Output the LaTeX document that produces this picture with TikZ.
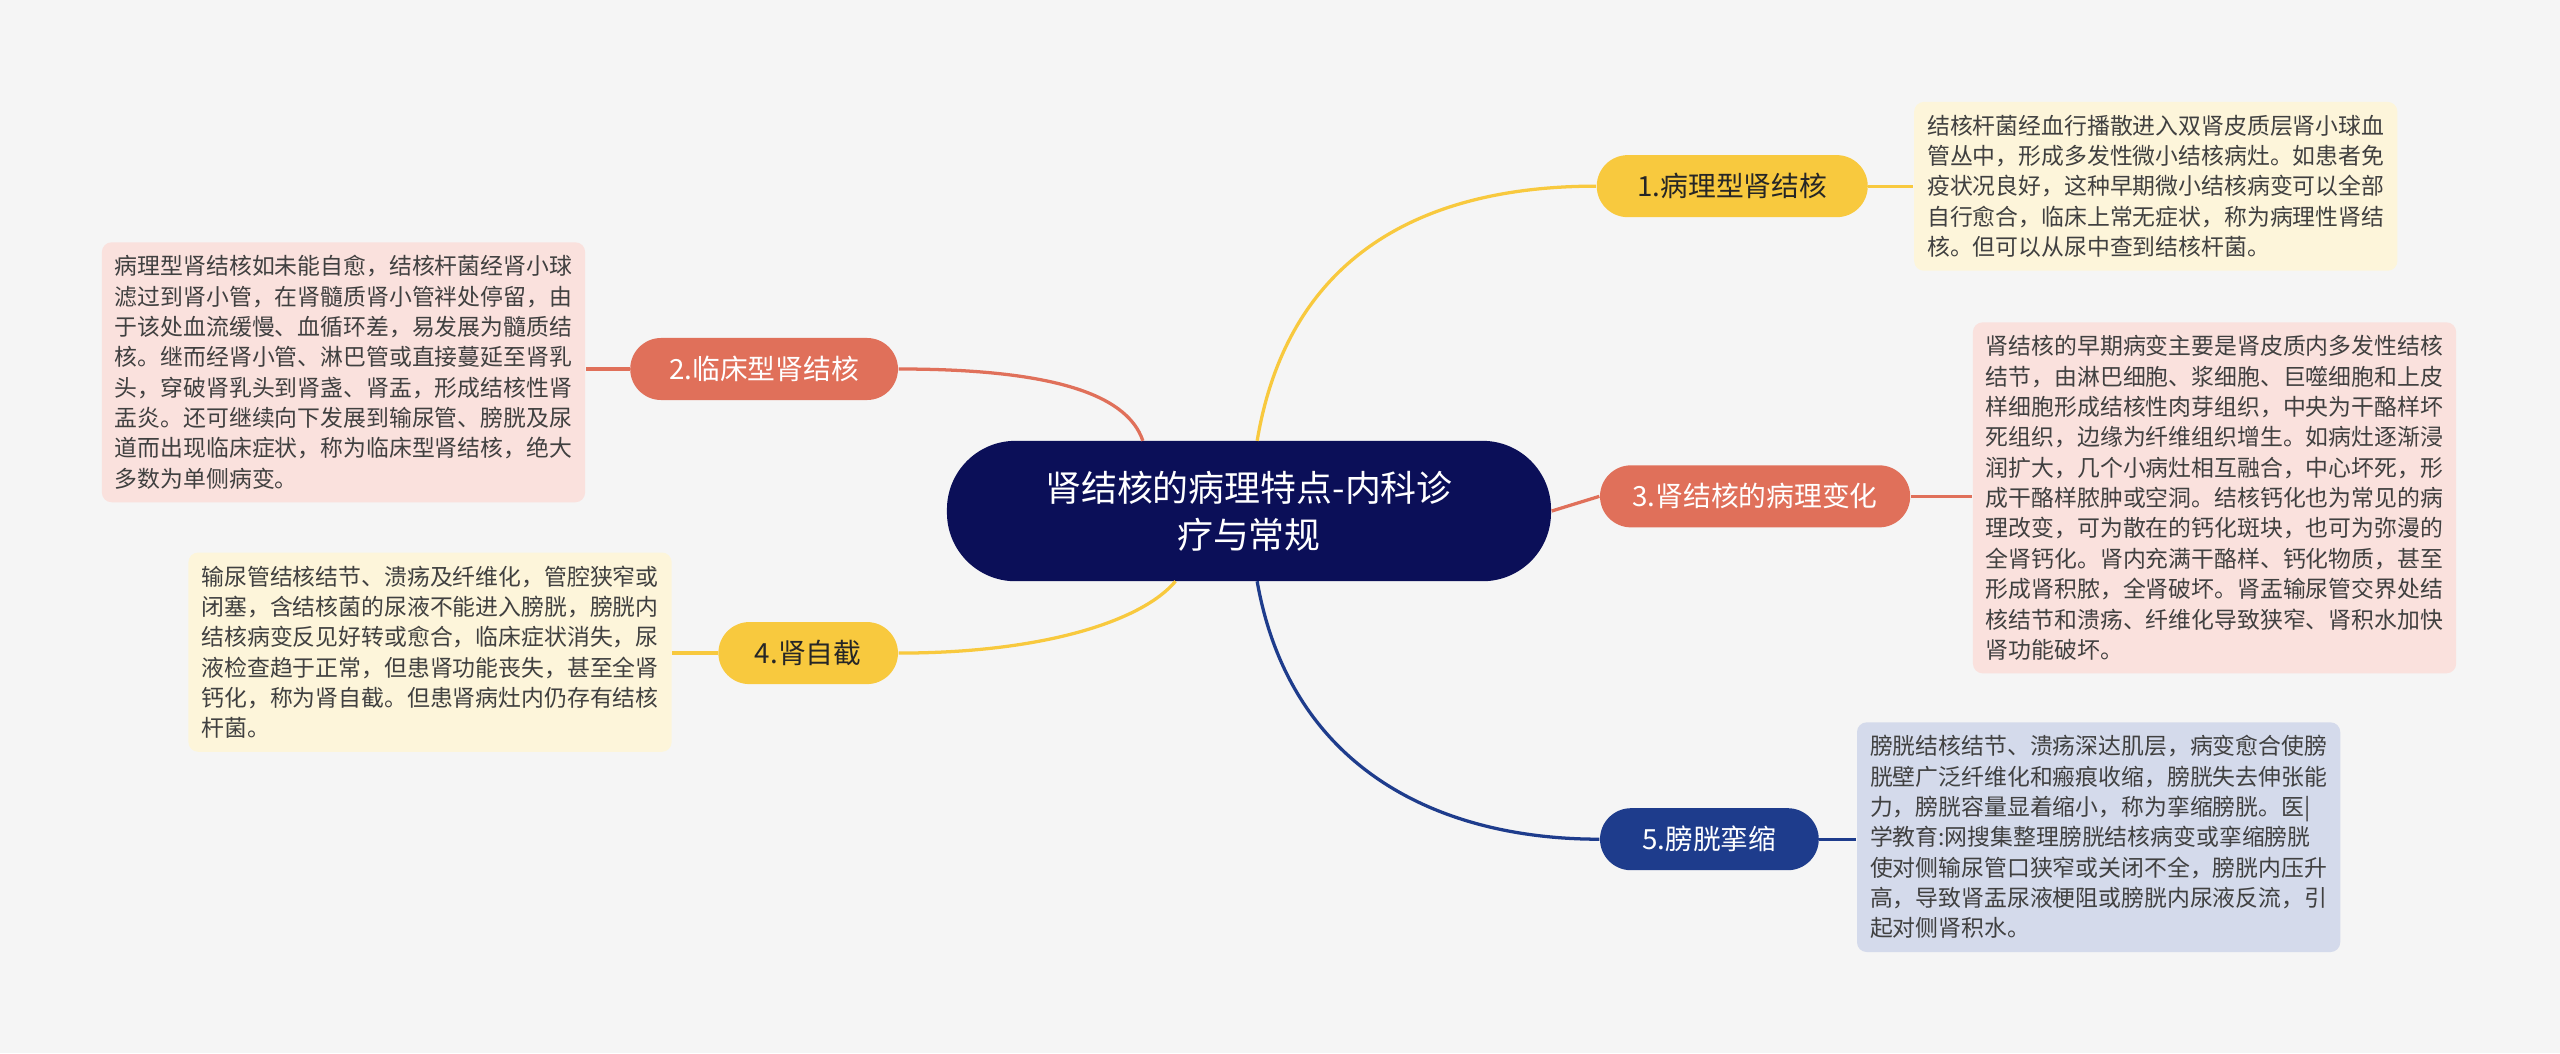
\documentclass[tikz,border=0pt]{standalone}
\usepackage{fontspec}
\setmainfont{Noto Sans CJK SC}
\begin{document}
\begin{tikzpicture}[x=0.5pt,y=-0.5pt,
 pill/.style={rounded corners=9.5pt,minimum height=19pt,inner xsep=8pt,font=\fontsize{8.5}{10}\selectfont},
 desc/.style={rounded corners=3pt,inner sep=4pt,align=left,anchor=north west,font=\fontsize{7}{9.3}\selectfont},
 con/.style={line width=1pt}]
\fill[white!96!black] (0,0) rectangle (1568,645);
\useasboundingbox (0,0) rectangle (1568,645);
\definecolor{navy}{HTML}{0B0F58}
\definecolor{ylw}{HTML}{F8C93E}
\definecolor{sal}{HTML}{E0705A}
\definecolor{blu}{HTML}{1E3C8C}
\definecolor{yb}{HTML}{FDF5DA}
\definecolor{sb}{HTML}{FAE1DD}
\definecolor{bb}{HTML}{D4DAEB}
\node[fill=navy,text=white,rounded corners=21pt,minimum width=185pt,minimum height=43pt,align=center,font=\fontsize{11}{14.5}\selectfont] (c) at (765,313) {肾结核的病理特点-内科诊\\疗与常规};
\node[pill,fill=ylw,text=black!85,minimum width=83pt] (p1) at (1061,114) {1.病理型肾结核};
\node[pill,fill=sal,text=white,minimum width=82pt] (p2) at (468,226) {2.临床型肾结核};
\node[pill,fill=sal,text=white,minimum width=95pt] (p3) at (1075,304) {3.肾结核的病理变化};
\node[pill,fill=ylw,text=black!85,minimum width=55pt] (p4) at (495,400) {4.肾自截};
\node[pill,fill=blu,text=white,minimum width=67pt] (p5) at (1047,514) {5.膀胱挛缩};
\node[desc,fill=yb,text=black!75] (d1) at (1172,62) {结核杆菌经血行播散进入双肾皮质层肾小球血\\管丛中，形成多发性微小结核病灶。如患者免\\疫状况良好，这种早期微小结核病变可以全部\\自行愈合，临床上常无症状，称为病理性肾结\\核。但可以从尿中查到结核杆菌。};
\node[desc,fill=sb,text=black!75] (d2) at (62,148) {病理型肾结核如未能自愈，结核杆菌经肾小球\\滤过到肾小管，在肾髓质肾小管袢处停留，由\\于该处血流缓慢、血循环差，易发展为髓质结\\核。继而经肾小管、淋巴管或直接蔓延至肾乳\\头，穿破肾乳头到肾盏、肾盂，形成结核性肾\\盂炎。还可继续向下发展到输尿管、膀胱及尿\\道而出现临床症状，称为临床型肾结核，绝大\\多数为单侧病变。};
\node[desc,fill=sb,text=black!75] (d3) at (1208,197) {肾结核的早期病变主要是肾皮质内多发性结核\\结节，由淋巴细胞、浆细胞、巨噬细胞和上皮\\样细胞形成结核性肉芽组织，中央为干酪样坏\\死组织，边缘为纤维组织增生。如病灶逐渐浸\\润扩大，几个小病灶相互融合，中心坏死，形\\成干酪样脓肿或空洞。结核钙化也为常见的病\\理改变，可为散在的钙化斑块，也可为弥漫的\\全肾钙化。肾内充满干酪样、钙化物质，甚至\\形成肾积脓，全肾破坏。肾盂输尿管交界处结\\核结节和溃疡、纤维化导致狭窄、肾积水加快\\肾功能破坏。};
\node[desc,fill=yb,text=black!75] (d4) at (115,338) {输尿管结核结节、溃疡及纤维化，管腔狭窄或\\闭塞，含结核菌的尿液不能进入膀胱，膀胱内\\结核病变反见好转或愈合，临床症状消失，尿\\液检查趋于正常，但患肾功能丧失，甚至全肾\\钙化，称为肾自截。但患肾病灶内仍存有结核\\杆菌。};
\node[desc,fill=bb,text=black!75] (d5) at (1137,442) {膀胱结核结节、溃疡深达肌层，病变愈合使膀\\胱壁广泛纤维化和瘢痕收缩，膀胱失去伸张能\\力，膀胱容量显着缩小，称为挛缩膀胱。医|\\学教育:网搜集整理膀胱结核病变或挛缩膀胱\\使对侧输尿管口狭窄或关闭不全，膀胱内压升\\高，导致肾盂尿液梗阻或膀胱内尿液反流，引\\起对侧肾积水。};
\coordinate (c1) at (770,270);
\coordinate (c2) at (700,270);
\coordinate (c4) at (720,356);
\coordinate (c5) at (770,356);
\draw[con,ylw] (c1) .. controls (790,150) and (880,114) .. (p1.west);
\draw[con,sal] (p2.east) .. controls (640,226) and (690,240) .. (c2);
\draw[con,sal] (c.east) -- (p3.west);
\draw[con,ylw] (p4.east) .. controls (640,400) and (700,380) .. (c4);
\draw[con,blu] (c5) .. controls (790,470) and (880,514) .. (p5.west);
\draw[con,ylw] (p1.east) -- (d1.west|-p1.east);
\draw[con,sal] (p2.west) -- (d2.east|-p2.west);
\draw[con,sal] (p3.east) -- (d3.west|-p3.east);
\draw[con,ylw] (p4.west) -- (d4.east|-p4.west);
\draw[con,blu] (p5.east) -- (d5.west|-p5.east);
\end{tikzpicture}
\end{document}
